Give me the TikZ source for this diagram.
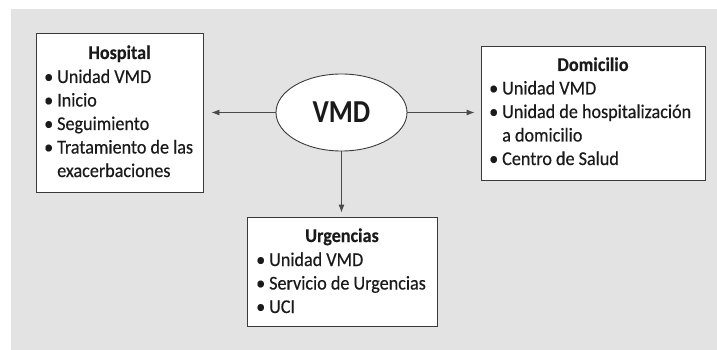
\documentclass[tikz,border=0pt]{standalone}
\usepackage{fontspec}
\setmainfont[FakeStretch=0.93,UprightFeatures={FakeBold=0.4},BoldFeatures={FakeBold=0.2}]{Carlito}
\newfontfamily\vmdfont[FakeStretch=0.86]{Carlito}
\usetikzlibrary{arrows.meta,shapes.geometric}
\definecolor{bgc}{HTML}{E3E3E3}
\definecolor{edgec}{HTML}{3A3A3A}
\definecolor{txtc}{HTML}{1A1A1A}
\definecolor{arrc}{HTML}{4A4A4A}
\newcommand\bul[1]{\makebox[13pt][l]{•}#1}
\begin{document}
\begin{tikzpicture}[x=1pt,y=-1pt,
  box/.style={draw=edgec,fill=white,line width=0.9pt,inner sep=0pt,rectangle},
  item/.style={inner sep=0pt,anchor=base west,text=txtc,font=\fontsize{19.5pt}{22pt}\selectfont},
  ttl/.style={inner sep=0pt,anchor=base,text=txtc,font=\fontsize{19.5pt}{22pt}\selectfont\bfseries},
  arr/.style={draw=arrc,line width=0.9pt,-{Latex[length=8pt,width=6pt]}}]
\useasboundingbox (0,0) rectangle (717,350);
\fill[bgc] (11,9) rectangle (717,350);
% boxes
\node[box,minimum width=167pt,minimum height=159pt] (hosp) at (119.5,112.5) {};
\node[box,minimum width=224pt,minimum height=134pt] (dom) at (593,113) {};
\node[box,minimum width=190pt,minimum height=109pt] (urg) at (342,271.5) {};
\node[ellipse,draw=edgec,fill=white,line width=0.9pt,inner sep=0pt,minimum width=131pt,minimum height=77pt,text=txtc,font=\vmdfont\fontsize{32pt}{34pt}\selectfont\bfseries] (vmd) at (341.5,112.5) {VMD};
% arrows
\draw[arr,shorten >=8pt] (vmd.west) -- (vmd.west -| hosp.east);
\draw[arr,shorten >=6pt] (vmd.east) -- (vmd.east -| dom.west);
\draw[arr,shorten >=4pt] (vmd.south) -- (vmd.south |- urg.north);
% Hospital text
\node[ttl] (h0) at (119.5,59) {Hospital};
\node[item] (h1) at (44,83) {\bul{Unidad VMD}};
\node[item] (h2) at (44,106.5) {\bul{Inicio}};
\node[item] (h3) at (44,130) {\bul{Seguimiento}};
\node[item] (h4) at (44,153.5) {\bul{Tratamiento de las}};
\node[item] (h5) at (57,177) {exacerbaciones};
% Domicilio text
\node[ttl] (d0) at (593,71) {Domicilio};
\node[item] (d1) at (489,94.5) {\bul{Unidad VMD}};
\node[item] (d2) at (489,118) {\bul{Unidad de hospitalización}};
\node[item] (d3) at (502,141.5) {a domicilio};
\node[item] (d4) at (489,165) {\bul{Centro de Salud}};
% Urgencias text
\node[ttl] (u0) at (342,242) {Urgencias};
\node[item] (u1) at (256,266) {\bul{Unidad VMD}};
\node[item] (u2) at (256,289.5) {\bul{Servicio de Urgencias}};
\node[item] (u3) at (256,313) {\bul{UCI}};
\end{tikzpicture}
\end{document}
